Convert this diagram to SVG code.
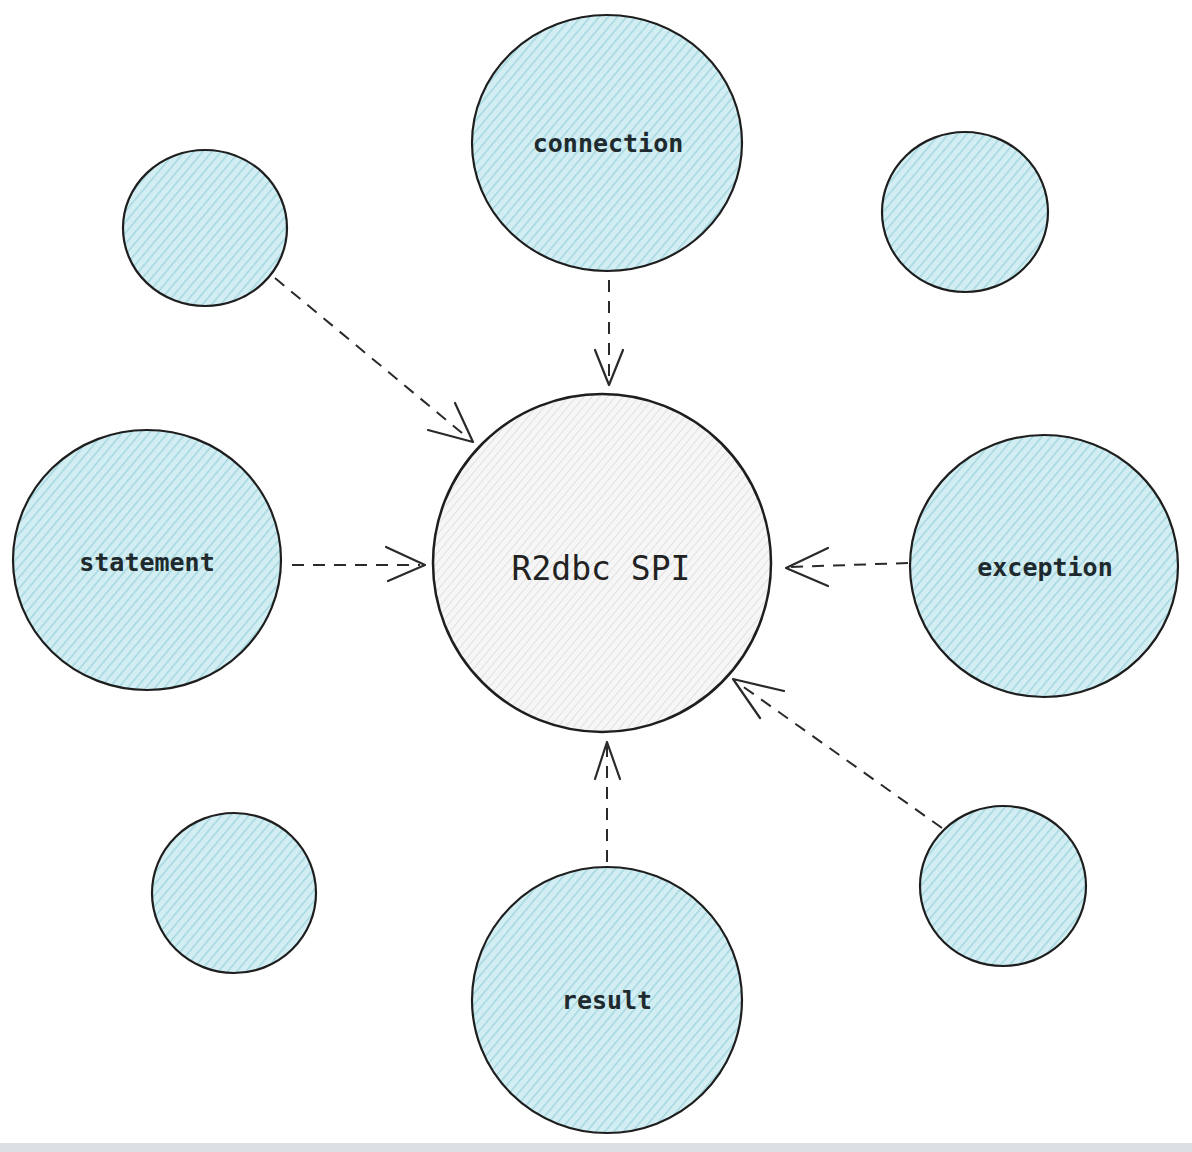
<svg xmlns="http://www.w3.org/2000/svg" width="1192" height="1152" viewBox="0 0 1192 1152">
<defs>
<pattern id="hBlue" patternUnits="userSpaceOnUse" width="7" height="7" patternTransform="rotate(40)">
<rect width="7" height="7" fill="#d3eef2"/>
<line x1="0" y1="0" x2="0" y2="7" stroke="#a3d7e0" stroke-width="3"/>
</pattern>
<pattern id="hGray" patternUnits="userSpaceOnUse" width="6" height="6" patternTransform="rotate(40)">
<rect width="6" height="6" fill="#f6f6f6"/>
<line x1="0" y1="0" x2="0" y2="6" stroke="#e0e0e0" stroke-width="2"/>
</pattern>
</defs>
<style>
.c{fill:url(#hBlue);stroke:#1e1e1e;stroke-width:2.2}
.g{fill:url(#hGray);stroke:#1e1e1e;stroke-width:2.5}
.t{font-family:"DejaVu Sans Mono",monospace;font-size:25px;font-weight:bold;fill:#1e2a2e;text-anchor:middle;dominant-baseline:central}
.big{font-size:33px;font-weight:normal;fill:#222}
.d{fill:none;stroke:#2a2a2a;stroke-width:2;stroke-dasharray:12 9}
.a{fill:none;stroke:#2a2a2a;stroke-width:2.2;stroke-linecap:round;stroke-linejoin:round}
</style>
<rect width="1192" height="1152" fill="#ffffff"/>
<rect x="0" y="1143" width="1192" height="9" fill="#dce0e5"/>
<g id="connectors">
<line class="d" x1="609" y1="280" x2="609" y2="382"/>
<polyline class="a" points="595,350 609,385 623,350"/>
<line class="d" x1="275" y1="278" x2="468" y2="438"/>
<polyline class="a" points="428,430 473,442 455,403"/>
<line class="d" x1="292" y1="565" x2="420" y2="565"/>
<polyline class="a" points="386,547 425,565 388,581"/>
<line class="d" x1="908" y1="563" x2="790" y2="567"/>
<polyline class="a" points="828,548 786,568 828,586"/>
<line class="d" x1="942" y1="828" x2="738" y2="683"/>
<polyline class="a" points="784,691 733,679 760,718"/>
<line class="d" x1="607" y1="862" x2="607" y2="746"/>
<polyline class="a" points="595,779 607,742 620,779"/>
</g>
<g id="connection"><ellipse class="c" cx="607" cy="143" rx="135" ry="128"/><text class="t" x="608" y="143">connection</text></g>
<g id="topLeft"><ellipse class="c" cx="205" cy="228" rx="82" ry="78"/></g>
<g id="topRight"><ellipse class="c" cx="965" cy="212" rx="83" ry="80"/></g>
<g id="statement"><ellipse class="c" cx="147" cy="560" rx="134" ry="130"/><text class="t" x="147" y="562">statement</text></g>
<g id="center"><ellipse class="g" cx="602" cy="563" rx="169" ry="169"/><text class="t big" x="601" y="568">R2dbc SPI</text></g>
<g id="exception"><ellipse class="c" cx="1044" cy="566" rx="134" ry="131"/><text class="t" x="1045" y="567">exception</text></g>
<g id="bottomLeft"><ellipse class="c" cx="234" cy="893" rx="82" ry="80"/></g>
<g id="bottomRight"><ellipse class="c" cx="1003" cy="886" rx="83" ry="80"/></g>
<g id="result"><ellipse class="c" cx="607" cy="1000" rx="135" ry="133"/><text class="t" x="607" y="1000">result</text></g>
</svg>
